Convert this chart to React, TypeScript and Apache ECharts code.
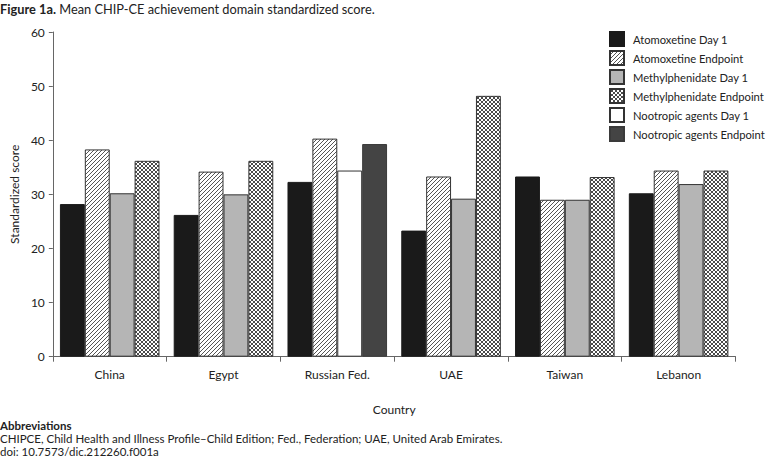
import React, { useEffect, useRef } from "react";
import * as echarts from "echarts";

const countries = ["China", "Egypt", "Russian Fed.", "UAE", "Taiwan", "Lebanon"];
const atoDay1 = [28.2, 26.2, 32.3, 23.3, 33.3, 30.2];
const atoEnd = [38.3, 34.2, 40.3, 33.3, 29.0, 34.4];
const mphDay1 = [30.2, 30.0, null, 29.2, 29.0, 31.9];
const mphEnd = [36.2, 36.2, null, 48.2, 33.2, 34.4];
const nooDay1 = [null, null, 34.4, null, null, null];
const nooEnd = [null, null, 39.3, null, null, null];
const yTicks = { min: 0, max: 60, interval: 10 };

const FONT = "Lato, 'Open Sans', sans-serif";

function makePattern(kind: "stripe" | "cross") {
  const c = document.createElement("canvas");
  const n = 4;
  c.width = n;
  c.height = n;
  const ctx = c.getContext("2d")!;
  ctx.fillStyle = "#ffffff";
  ctx.fillRect(0, 0, n, n);
  ctx.fillStyle = kind === "stripe" ? "#555555" : "#4a4a4a";
  for (let x = 0; x < n; x++) {
    for (let y = 0; y < n; y++) {
      const a = (x + y) % n === n - 1;
      const b = (x - y + n) % n === 0;
      if (kind === "stripe" ? a : a || b) ctx.fillRect(x, y, 1, 1);
    }
  }
  return { image: c, repeat: "repeat" } as any;
}

export default function App() {
  const ref = useRef<HTMLDivElement>(null);
  useEffect(() => {
    if (!ref.current) return;
    const chart = echarts.init(ref.current, null, { renderer: "svg" });
    const stripe = makePattern("stripe");
    const cross = makePattern("cross");
    const mk = (name: string, data: (number | null)[], color: any, stack: string, bc = "#333") => ({
      name,
      type: "bar",
      data,
      stack,
      barGap: "0%",
      barCategoryGap: "12.5%",
      itemStyle: { color, borderColor: bc, borderWidth: 1 },
      emphasis: { disabled: true },
    });
    const footStyle = { fontFamily: FONT, fontSize: 11.5, fill: "#222", textVerticalAlign: "middle" };
    chart.setOption({
      animation: false,
      textStyle: { fontFamily: FONT },
      title: {
        left: 0,
        top: 2,
        padding: 0,
        text: "{b|Figure 1a.} Mean CHIP-CE achievement domain standardized score.",
        textStyle: {
          fontFamily: FONT,
          fontSize: 12.8,
          fontWeight: "normal",
          color: "#222",
          rich: { b: { fontFamily: FONT, fontSize: 12.8, fontWeight: "bold", color: "#222" } },
        },
      },
      legend: {
        orient: "vertical",
        left: 609,
        top: 31,
        padding: 0,
        icon: "rect",
        itemWidth: 14,
        itemHeight: 14,
        itemGap: 3,
        textStyle: { fontFamily: FONT, fontSize: 11.2, color: "#222", padding: [0, 0, 0, 4] },
        selectedMode: false,
        data: [
          "Atomoxetine Day 1",
          "Atomoxetine Endpoint",
          "Methylphenidate Day 1",
          "Methylphenidate Endpoint",
          "Nootropic agents Day 1",
          "Nootropic agents Endpoint",
        ],
      },
      grid: { left: 43, right: 36.5, top: 32, bottom: 100.3, containLabel: false },
      xAxis: {
        type: "category",
        data: countries,
        name: "Country",
        nameLocation: "middle",
        nameGap: 47,
        nameTextStyle: { fontFamily: FONT, fontSize: 12, color: "#222" },
        axisLine: { lineStyle: { color: "#666", width: 1 } },
        axisTick: { show: true, length: 5, lineStyle: { color: "#666" } },
        axisLabel: { fontFamily: FONT, fontSize: 12, color: "#222", margin: 12 },
      },
      yAxis: {
        type: "value",
        min: yTicks.min,
        max: yTicks.max,
        interval: yTicks.interval,
        name: "Standardized score",
        nameLocation: "middle",
        nameGap: 29,
        nameTextStyle: { fontFamily: FONT, fontSize: 12, color: "#222" },
        axisLine: { show: true, lineStyle: { color: "#666", width: 1 } },
        axisTick: { show: true, length: 4, lineStyle: { color: "#666" } },
        axisLabel: { fontFamily: FONT, fontSize: 12, color: "#222", margin: 8 },
        splitLine: { show: false },
      },
      series: [
        mk("Atomoxetine Day 1", atoDay1, "#1a1a1a", "s1", "#1a1a1a"),
        mk("Atomoxetine Endpoint", atoEnd, stripe, "s2"),
        mk("Methylphenidate Day 1", mphDay1, "#b5b5b5", "s3"),
        mk("Methylphenidate Endpoint", mphEnd, cross, "s4"),
        mk("Nootropic agents Day 1", nooDay1, "#ffffff", "s3"),
        mk("Nootropic agents Endpoint", nooEnd, "#444444", "s4", "#3a3a3a"),
      ],
      graphic: [
        { type: "text", x: 0, y: 425, style: { ...footStyle, text: "Abbreviations", fontWeight: "bold" } },
        { type: "text", x: 0, y: 438.5, style: { ...footStyle, text: "CHIPCE, Child Health and Illness Profile–Child Edition; Fed., Federation; UAE, United Arab Emirates." } },
        { type: "text", x: 0, y: 451, style: { ...footStyle, text: "doi: 10.7573/dic.212260.f001a" } },
      ],
    });
    return () => chart.dispose();
  }, []);
  return (
    <div
      ref={ref}
      style={{ position: "absolute", left: 0, top: 0, width: 772, height: 457, background: "#fff" }}
    />
  );
}
